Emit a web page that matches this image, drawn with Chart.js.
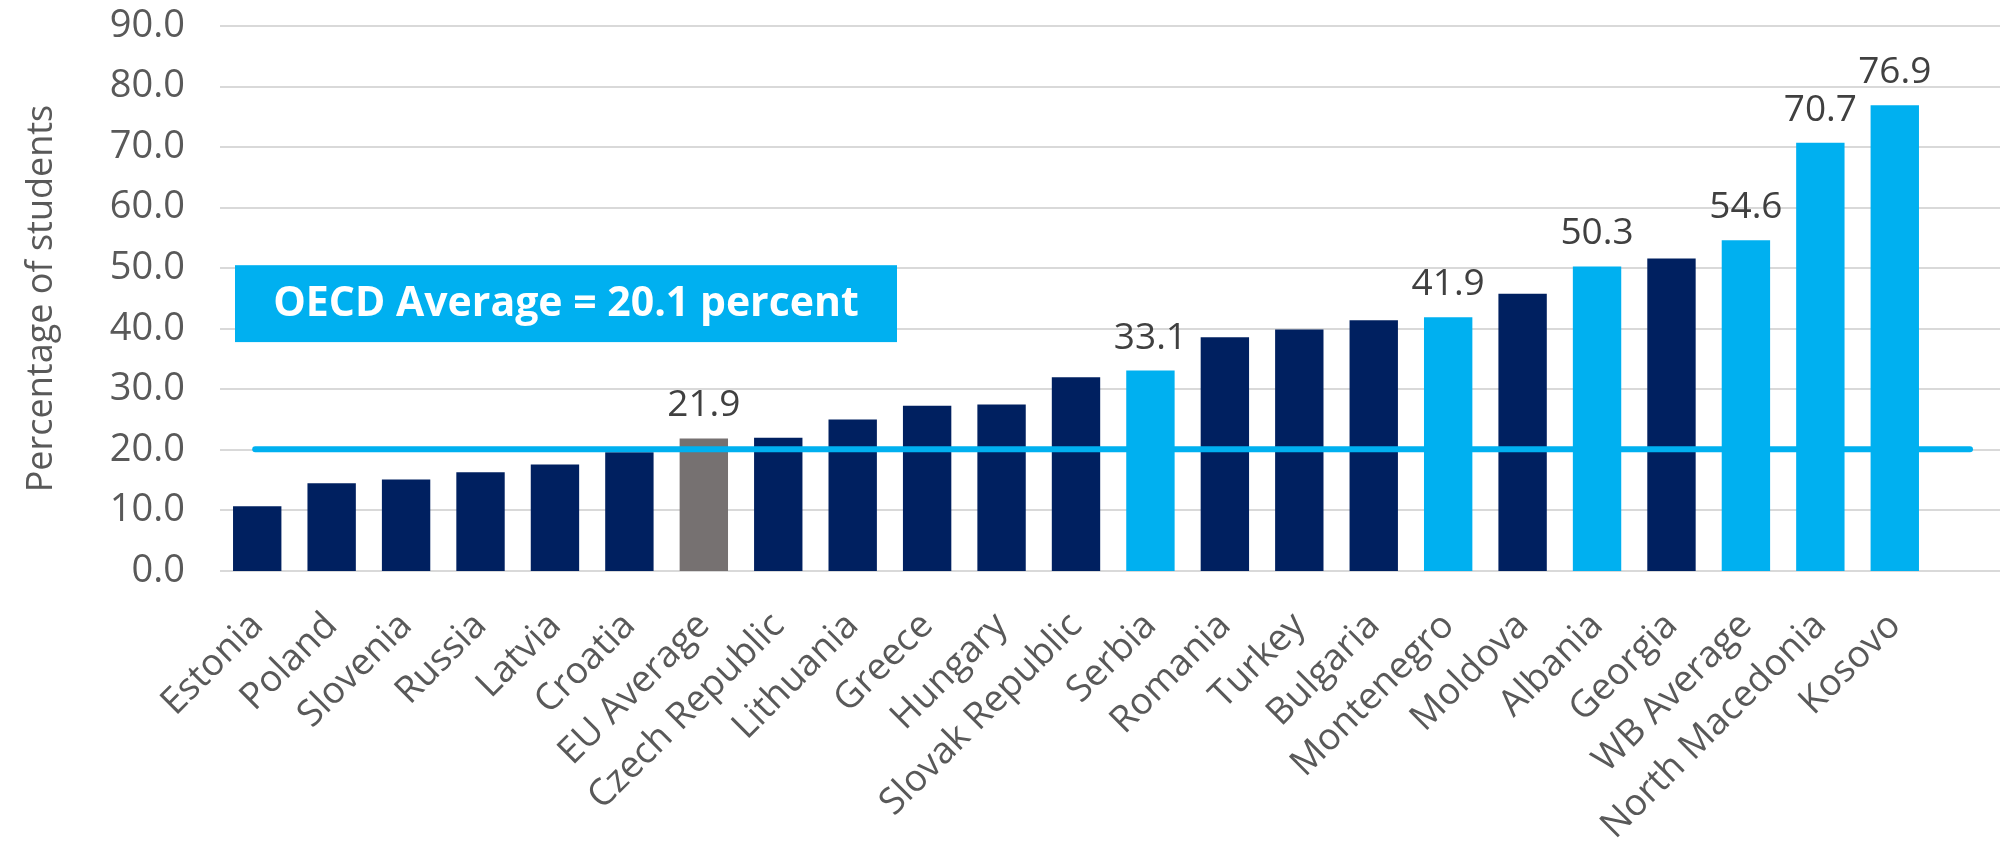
<!DOCTYPE html>
<html>
<head>
<meta charset="utf-8">
<script src="https://cdn.jsdelivr.net/npm/chart.js@4.4.1/dist/chart.umd.min.js"></script>
<style>
  html, body { margin: 0; padding: 0; background: #fff; }
  #wrap { width: 2000px; height: 843px; position: relative; }
</style>
</head>
<body>
<div id="wrap"><canvas id="bar-chart"></canvas></div>
<script>
var countries = ['Estonia', 'Poland', 'Slovenia', 'Russia', 'Latvia', 'Croatia', 'EU Average',
    'Czech Republic', 'Lithuania', 'Greece', 'Hungary', 'Slovak Republic', 'Serbia', 'Romania',
    'Turkey', 'Bulgaria', 'Montenegro', 'Moldova', 'Albania', 'Georgia', 'WB Average',
    'North Macedonia', 'Kosovo'];
var shares = [10.7, 14.5, 15.1, 16.3, 17.6, 19.6, 21.9, 22.0, 25.0, 27.3, 27.5, 32.0, 33.1, 38.6,
    39.9, 41.4, 41.9, 45.8, 50.3, 51.6, 54.6, 70.7, 76.9];
// which group each bar belongs to: 'oth' = other country, 'eu' = EU average, 'wb' = Western Balkans
var groups = ['oth', 'oth', 'oth', 'oth', 'oth', 'oth', 'eu', 'oth', 'oth', 'oth', 'oth', 'oth', 'wb', 'oth',
    'oth', 'oth', 'wb', 'oth', 'wb', 'oth', 'wb', 'wb', 'wb'];
var yTicks = [0, 10, 20, 30, 40, 50, 60, 70, 80, 90];
var oecdAverage = 20.1;

var NAVY = '#002060', SKY = '#00B0F0', GREY = '#767171';
var colorFor = { oth: NAVY, eu: GREY, wb: SKY };
var FONT = '"Open Sans", "Noto Sans", sans-serif';

// grid lines run past the plot to the right edge, like the original
var gridPlugin = {
    id: 'longGrid',
    beforeDatasetsDraw: function(chart) {
        var ctx = chart.ctx, y = chart.scales.y, area = chart.chartArea;
        ctx.save();
        ctx.strokeStyle = '#D9D9D9';
        ctx.lineWidth = 2;
        yTicks.forEach(function(t) {
            var py = Math.round(y.getPixelForValue(t));
            ctx.beginPath();
            ctx.moveTo(area.left, py);
            ctx.lineTo(chart.width, py);
            ctx.stroke();
        });
        ctx.restore();
    }
};

var overlayPlugin = {
    id: 'overlay',
    afterDatasetsDraw: function(chart) {
        var ctx = chart.ctx, x = chart.scales.x, y = chart.scales.y, area = chart.chartArea;
        ctx.save();

        // OECD average line
        var ly = y.getPixelForValue(oecdAverage);
        ctx.strokeStyle = SKY;
        ctx.lineWidth = 6;
        ctx.lineCap = 'round';
        ctx.beginPath();
        ctx.moveTo(x.getPixelForValue(0) - 2, ly);
        ctx.lineTo(area.right + 38, ly);
        ctx.stroke();

        // value labels on the highlighted bars
        var meta = chart.getDatasetMeta(0);
        ctx.fillStyle = '#404040';
        ctx.font = '37px ' + FONT;
        ctx.textAlign = 'center';
        ctx.textBaseline = 'alphabetic';
        meta.data.forEach(function(bar, i) {
            if (groups[i] === 'oth') return;
            ctx.fillText(shares[i].toFixed(1), bar.x, bar.y - 22);
        });

        // OECD callout box
        var top = y.getPixelForValue(50.5), bottom = y.getPixelForValue(37.8);
        var left = area.left + 15, right = area.left + 677;
        ctx.fillStyle = SKY;
        ctx.fillRect(left, top, right - left, bottom - top);
        ctx.fillStyle = '#fff';
        ctx.font = 'bold 41px ' + FONT;
        ctx.textAlign = 'center';
        ctx.textBaseline = 'middle';
        ctx.fillText('OECD Average = ' + oecdAverage.toFixed(1) + ' percent', (left + right) / 2, (top + bottom) / 2 + 1);

        ctx.restore();
    }
};

var ctx = document.getElementById('bar-chart').getContext('2d');
new Chart(ctx, {
    type: 'bar',
    data: {
        labels: countries,
        datasets: [{
            label: 'Percentage of students',
            data: shares,
            backgroundColor: groups.map(function(g) { return colorFor[g]; }),
            borderWidth: 0,
            categoryPercentage: 1,
            barPercentage: 0.65
        }]
    },
    options: {
        responsive: true,
        maintainAspectRatio: false,
        animation: false,
        layout: { padding: { top: 26, right: 68, left: 0, bottom: 0 } },
        plugins: {
            legend: { display: false },
            tooltip: { enabled: false }
        },
        scales: {
            x: {
                grid: { display: false },
                border: { display: false },
                ticks: {
                    color: '#595959',
                    font: { family: FONT, size: 37 },
                    maxRotation: 45,
                    minRotation: 45,
                    autoSkip: false,
                    padding: 25
                },
                afterFit: function(scale) { scale.height = 272; }
            },
            y: {
                min: 0,
                max: 90,
                grid: { display: false },
                border: { display: false },
                ticks: {
                    stepSize: 10,
                    color: '#595959',
                    font: { family: FONT, size: 38 },
                    padding: 27,
                    callback: function(value) { return value.toFixed(1); }
                },
                title: {
                    display: true,
                    text: 'Percentage of students',
                    color: '#595959',
                    font: { family: FONT, size: 36 },
                    padding: { top: 20, bottom: 0 }
                },
                afterFit: function(scale) {
                    scale.width = 220;
                    scale.paddingTop = 0;
                    scale.paddingBottom = 0;
                }
            }
        }
    },
    plugins: [gridPlugin, overlayPlugin]
});
</script>
</body>
</html>
